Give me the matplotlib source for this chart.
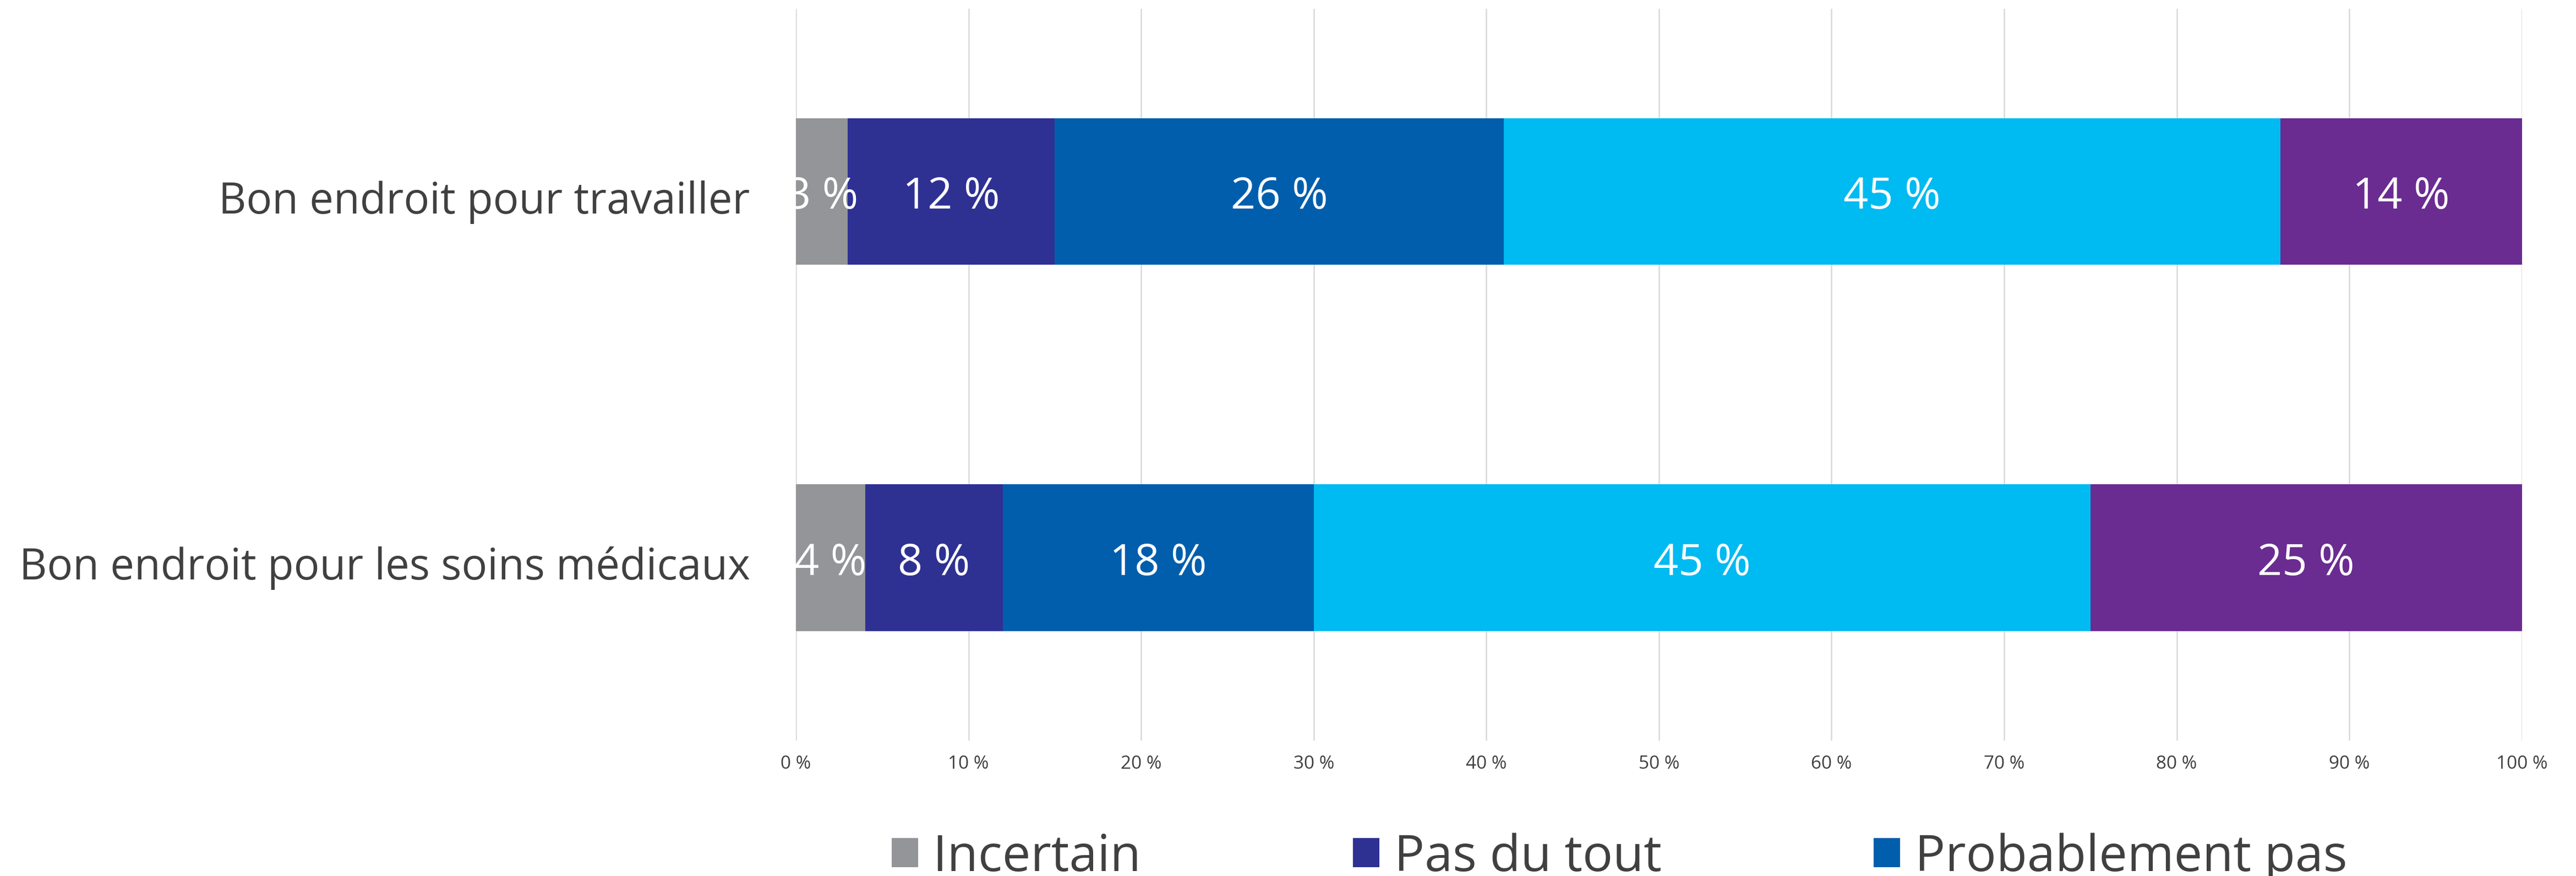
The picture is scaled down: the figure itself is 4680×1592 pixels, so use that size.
import matplotlib.pyplot as plt
import matplotlib.transforms as mtransforms
import numpy as np

# data
categories = ["Bon endroit pour travailler", "Bon endroit pour les soins médicaux"]
series_names = ["Incertain", "Pas du tout", "Probablement pas", "Probablement oui", "Certainement"]
incertain = [3, 4]
pas_du_tout = [12, 8]
probablement_pas = [26, 18]
probablement_oui = [45, 45]
certainement = [14, 25]
xticks = [0, 10, 20, 30, 40, 50, 60, 70, 80, 90, 100]

colors = ["#939598", "#2E3192", "#005EAD", "#00BAF2", "#6A2C91"]
values = [incertain, pas_du_tout, probablement_pas, probablement_oui, certainement]

plt.rcParams['font.family'] = ['Open Sans', 'DejaVu Sans']

fig = plt.figure(figsize=(15.6, 5.31), dpi=300)
ax = fig.add_axes([0.309, 0.1544, 0.670, 0.835])

y = np.arange(len(categories))
left = np.zeros(len(categories))
handles = []
for name, vals, col in zip(series_names, values, colors):
    bars = ax.barh(y, vals, left=left, height=0.4, color=col, label=name, zorder=2)
    handles.append(bars)
    for b, v in zip(bars, vals):
        ax.text(b.get_x() + b.get_width() / 2, b.get_y() + b.get_height() / 2,
                f"{v} %", ha='center', va='center_baseline', color='white',
                fontsize=19, zorder=3)
    left += np.array(vals)

ax.set_xlim(0, 100)
ax.set_ylim(1.5, -0.5)
ax.set_xticks(xticks)
ax.set_xticklabels([f"{t} %" for t in xticks], fontsize=8, color='#404040')
ax.set_yticks(y)
ax.set_yticklabels(categories, fontsize=18.7, color='#404040')
ax.tick_params(axis='x', length=0, pad=6)
ax.tick_params(axis='y', length=0, pad=20)
# nudge category labels down a little, as in the reference
shift = mtransforms.ScaledTranslation(0, -2 / 72, fig.dpi_scale_trans)
for lab in ax.get_yticklabels():
    lab.set_transform(lab.get_transform() + shift)
ax.grid(axis='x', color='#d9d9d9', linewidth=0.6, zorder=0)
ax.set_axisbelow(True)
for s in ax.spines.values():
    s.set_visible(False)

# only the first legend row is visible in the reference
fig.legend(handles[:3], series_names[:3], loc='center left',
           bbox_to_anchor=(1620 / 4680, 0.0213), ncol=3, frameon=False,
           fontsize=22, labelcolor='#404040', handlelength=0.52, handleheight=0.52,
           handletextpad=0.3, columnspacing=4.2, borderpad=0, borderaxespad=0)

fig.savefig("out.png", dpi=300)
